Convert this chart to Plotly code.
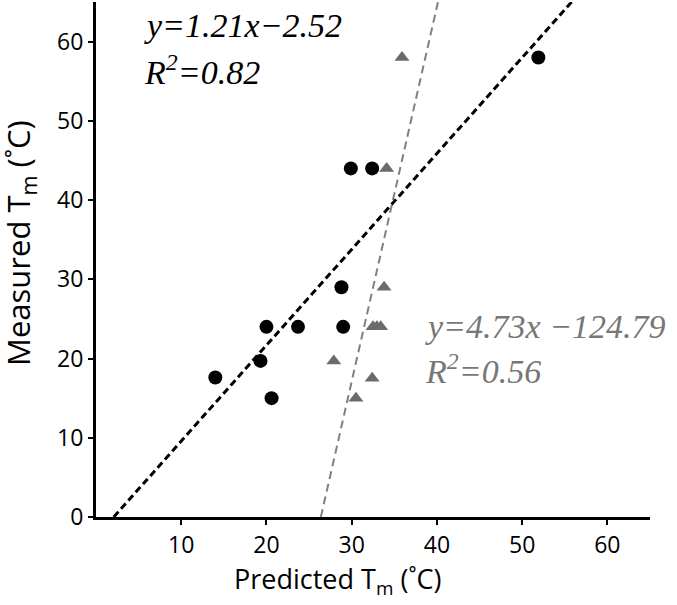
import plotly.graph_objects as go

# Black circles (series 1)
pred_black = [14.0, 19.3, 20.0, 20.6, 23.7, 29.0, 28.8, 29.9, 32.4, 51.9]
meas_black = [17.6, 19.7, 24.0, 15.0, 24.0, 24.0, 29.0, 44.0, 44.0, 58.0]

# Grey triangles (series 2)
pred_grey = [35.9, 34.1, 33.8, 32.5, 32.95, 33.4, 27.9, 32.4, 30.5]
meas_grey = [58.0, 44.0, 29.0, 24.0, 24.0, 24.0, 19.7, 17.5, 15.0]

# Regression fits
fit_black = (1.21, -2.52)
fit_grey = (4.73, -124.79)

x_ticks = [10, 20, 30, 40, 50, 60]
y_ticks = [0, 10, 20, 30, 40, 50, 60]
axis_max = 65


def fit_line(slope, intercept):
    y0, y1 = 0, axis_max
    return [(y0 - intercept) / slope, (y1 - intercept) / slope], [y0, y1]


fig = go.Figure()

bx, by = fit_line(*fit_black)
gx, gy = fit_line(*fit_grey)

fig.add_trace(go.Scatter(x=gx, y=gy, mode="lines",
                         line=dict(color="#808080", width=2, dash="8px,5px"),
                         showlegend=False, hoverinfo="skip"))
fig.add_trace(go.Scatter(x=bx, y=by, mode="lines",
                         line=dict(color="#000000", width=3, dash="7px,4px"),
                         showlegend=False, hoverinfo="skip"))
fig.add_trace(go.Scatter(x=pred_grey, y=meas_grey, mode="markers",
                         marker=dict(symbol="triangle-up", size=13, color="#6b6b6b"),
                         showlegend=False))
fig.add_trace(go.Scatter(x=pred_black, y=meas_black, mode="markers",
                         marker=dict(symbol="circle", size=14, color="#000000"),
                         showlegend=False))

serif = "Liberation Serif"
ann = []
ann.append(dict(x=5.4, y=62.0, text="<i>y=1.21x−2.52</i>", font=dict(family=serif, size=34, color="#000000")))
ann.append(dict(x=5.4, y=56.4, text="<i>R<sup>2</sup>=0.82</i>", font=dict(family=serif, size=34, color="#000000")))
ann.append(dict(x=38.4, y=24.0, text="<i>y=4.73x −124.79</i>", font=dict(family=serif, size=34, color="#777777")))
ann.append(dict(x=38.4, y=18.7, text="<i>R<sup>2</sup>=0.56</i>", font=dict(family=serif, size=34, color="#777777")))
for a in ann:
    a.update(xref="x", yref="y", xanchor="left", yanchor="middle", showarrow=False)

sans = "Open Sans"
ann.append(dict(x=337, y=580, text="Predicted T<sub>m</sub> (˚C)",
                font=dict(family=sans, size=27, color="#000000")))
ann.append(dict(x=20, y=243, text="Measured T<sub>m</sub> (˚C)", textangle=-90,
                font=dict(family=sans, size=31, color="#000000")))

W, H = 677, 605
ml, mr, mt, mb = 96, 27, 2, 88
# convert pixel positions of the titles into paper coordinates
for a in ann[-2:]:
    px, py = a["x"], a["y"]
    a.update(xref="paper", yref="paper", xanchor="center", yanchor="middle", showarrow=False,
             x=(px - ml) / (W - ml - mr), y=(H - mb - py) / (H - mt - mb))

fig.update_layout(
    width=W, height=H,
    margin=dict(l=ml, r=mr, t=mt, b=mb),
    plot_bgcolor="white", paper_bgcolor="white",
    annotations=ann,
    xaxis=dict(range=[0, axis_max], tickvals=x_ticks, showgrid=False, zeroline=False,
               showline=True, linecolor="black", linewidth=3, ticks="outside",
               ticklen=5, tickwidth=2, tickcolor="black",
               tickfont=dict(family=sans, size=23, color="#000000")),
    yaxis=dict(range=[0, axis_max], tickvals=y_ticks, showgrid=False, zeroline=False,
               showline=True, linecolor="black", linewidth=3, ticks="outside",
               ticklen=5, tickwidth=2, tickcolor="black",
               tickfont=dict(family=sans, size=23, color="#000000")),
)

fig.write_html("out.html", config={"displayModeBar": False},
               post_script="document.body.style.margin='0';")
